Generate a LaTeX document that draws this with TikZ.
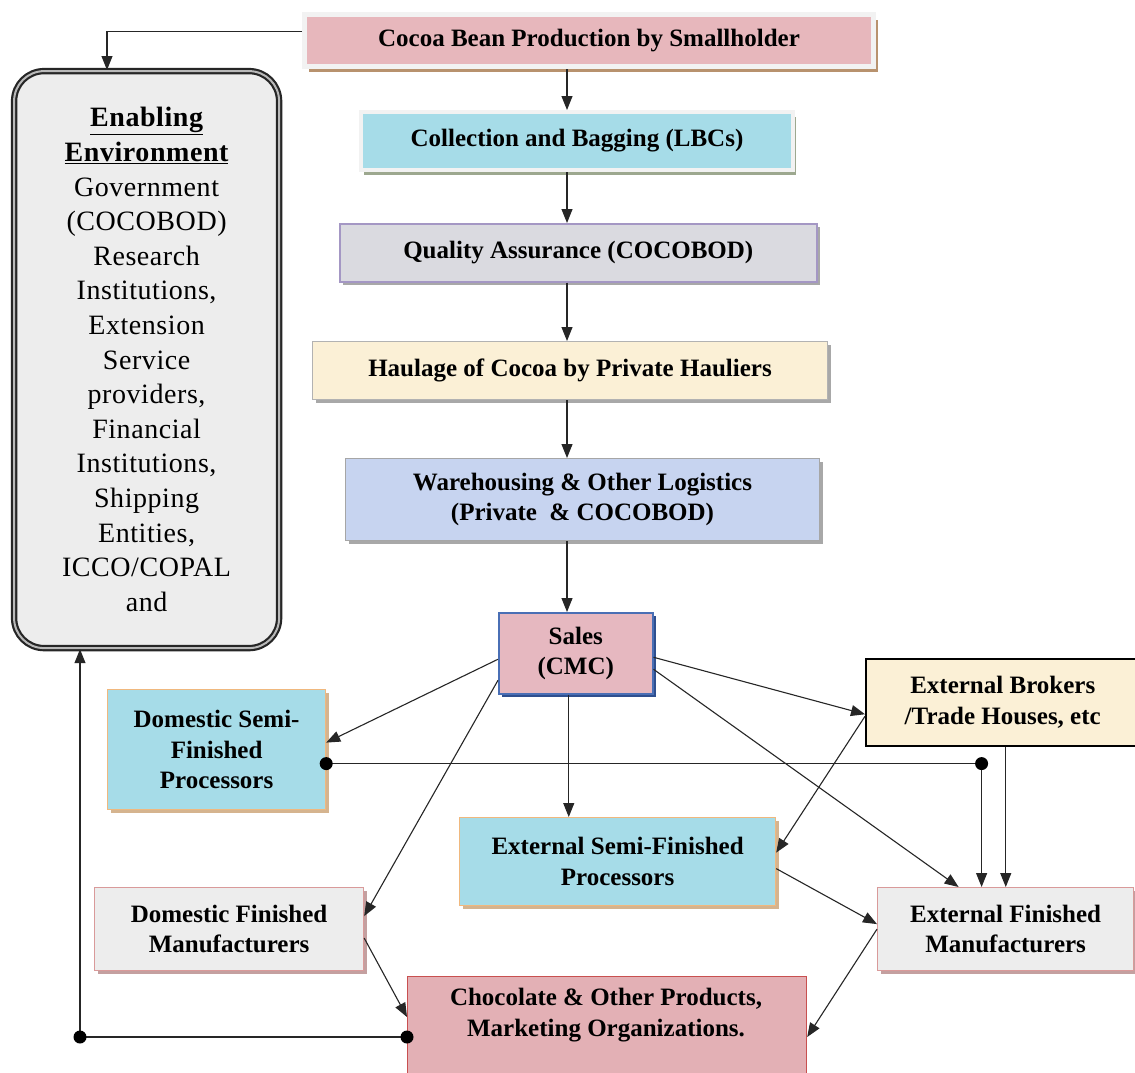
\documentclass[tikz,border=0pt]{standalone}
\usepackage{fontspec}
\setmainfont{Liberation Serif}
\usetikzlibrary{arrows.meta,shadows,calc}
\definecolor{cocoapink}{HTML}{E7B7BC}
\definecolor{salespink}{HTML}{E6B8C0}
\definecolor{chocpink}{HTML}{E3B0B5}
\definecolor{aqua}{HTML}{A6DCE8}
\definecolor{marble}{HTML}{DADAE0}
\definecolor{cream}{HTML}{FBF0D6}
\definecolor{bluelav}{HTML}{C7D4F0}
\definecolor{paper}{HTML}{EDEDED}
\definecolor{lavborder}{HTML}{A497C4}
\definecolor{orangeborder}{HTML}{F0B87E}
\definecolor{pinkborder}{HTML}{D99A9A}
\definecolor{redborder}{HTML}{C85050}
\definecolor{blueborder}{HTML}{4A6FB5}
\definecolor{brownshadow}{HTML}{B8926E}
\definecolor{greenshadow}{HTML}{9DA88F}
\definecolor{tanshadow}{HTML}{D5B48F}
\definecolor{navyshadow}{HTML}{2F4F8F}
\definecolor{greyshadow}{HTML}{A8A8A8}
\definecolor{rosyshadow}{HTML}{C4A0A0}
\begin{document}
\begin{tikzpicture}[x=1pt,y=-1pt,
  box/.style={rectangle, anchor=north west, inner sep=2pt, align=center,
    font=\fontsize{25}{30.5}\selectfont\bfseries},
  shade3/.style={drop shadow={shadow xshift=3pt, shadow yshift=-3pt, fill=#1, opacity=1}},
  conn/.style={draw=black!85, line width=1.1pt, -{Triangle[length=14pt,width=11pt]}},
  dot/.style={circle, fill=black, inner sep=0pt, minimum size=13pt}
]
\useasboundingbox (0,0) rectangle (1135,1072);
\fill[white] (0,0) rectangle (1135,1072);

% main column
\node[box, fill=cocoapink, draw=gray!10, line width=5pt,
  drop shadow={shadow xshift=4pt, shadow yshift=-5pt, fill=brownshadow, opacity=1},
  minimum width=569pt, minimum height=52pt] (cocoa) at (302,12)
  {Cocoa Bean Production by Smallholder};
\node[box, fill=aqua, draw=gray!10, line width=4pt,
  drop shadow={shadow xshift=3pt, shadow yshift=-5pt, fill=greenshadow, opacity=1},
  minimum width=432pt, minimum height=58pt] (coll) at (359,110)
  {Collection and Bagging (LBCs)};
\node[box, fill=marble, draw=lavborder, line width=1.5pt, shade3=greyshadow,
  minimum width=477pt, minimum height=58pt] (qual) at (339,223)
  {Quality Assurance (COCOBOD)};
\node[box, fill=cream, draw=gray!60, line width=1pt, shade3=greyshadow,
  minimum width=515pt, minimum height=58pt] (haul) at (312,341)
  {Haulage of Cocoa by Private Hauliers};
\node[box, fill=bluelav, draw=gray!70, line width=1pt, shade3=greyshadow,
  minimum width=474pt, minimum height=82pt] (ware) at (345,458)
  {Warehousing \& Other Logistics\\(Private~~\& COCOBOD)};
\node[box, fill=salespink, draw=blueborder, line width=1.5pt, shade3=navyshadow,
  minimum width=154pt, minimum height=81pt] (sales) at (498,612)
  {Sales\\(CMC)};

% enabling environment
\node[rectangle, anchor=north west, rounded corners=30pt, fill=paper,
  draw=black!85, double=gray!55, double distance=2pt, line width=2.2pt,
  minimum width=265pt, minimum height=577pt, align=center,
  font=\fontsize{28}{34.6}\selectfont\addfontfeature{LetterSpace=2}] (enab) at (13,70)
  {{\bfseries\underline{Enabling}}\\{\bfseries\underline{Environment}}\\Government\\(COCOBOD)\\Research\\Institutions,\\Extension\\Service\\providers,\\Financial\\Institutions,\\Shipping\\Entities,\\ICCO/COPAL\\and};

% lower boxes
\node[box, fill=aqua, draw=orangeborder, line width=1.2pt, shade3=tanshadow,
  minimum width=218pt, minimum height=120pt] (domsemi) at (107,689)
  {Domestic Semi-\\Finished\\Processors};
\node[box, fill=cream, draw=black, line width=1.5pt,
  minimum width=274pt, minimum height=87pt] (brokers) at (865,658)
  {External Brokers\\/Trade Houses, etc};
\node[box, fill=aqua, draw=orangeborder, line width=1.2pt, shade3=tanshadow,
  minimum width=316pt, minimum height=88pt] (extsemi) at (459,817)
  {External Semi-Finished\\Processors};
\node[box, fill=paper, draw=pinkborder, line width=1.2pt, shade3=rosyshadow,
  minimum width=269pt, minimum height=83pt] (domfin) at (94,887)
  {Domestic Finished\\Manufacturers};
\node[box, fill=paper, draw=pinkborder, line width=1.2pt, shade3=rosyshadow,
  minimum width=256pt, minimum height=83pt] (extfin) at (877,887)
  {External Finished\\Manufacturers};
\node[box, fill=chocpink, draw=redborder, line width=1.2pt,
  minimum width=399pt, minimum height=110pt] (choc) at (407,976) {};
\node[align=center, font=\fontsize{25}{30.5}\selectfont\bfseries] (choctext) at (606,1015)
  {Chocolate \& Other Products,\\Marketing Organizations.};

% main column connectors
\coordinate (col) at (567,0);
\draw[conn] (cocoa.south -| col) -- (coll.north -| col);
\draw[conn] (coll.south -| col) -- (qual.north -| col);
\draw[conn] (qual.south -| col) -- (haul.north -| col);
\draw[conn] (haul.south -| col) -- (ware.north -| col);
\draw[conn] (ware.south -| col) -- (sales.north -| col);

% feedback to enabling environment
\draw[conn] ([yshift=9pt]cocoa.west) -| ([xshift=94pt]enab.north west);
\draw[conn] ([yshift=-61pt]choc.north west) -| ([xshift=67pt]enab.south west);
\node[dot] (d1) at ([yshift=-61pt]choc.north west) {};
\node[dot] (d2) at (80,1037) {};

% sales fan-out
\draw[conn] ([yshift=-6pt]sales.west) -- ([yshift=7pt]domsemi.east);
\draw[conn] ([yshift=-27pt]sales.west) -- ([yshift=13pt]domfin.east);
\draw[conn] ([xshift=-7pt]sales.south) -- ([xshift=-7pt]sales.south |- extsemi.north);
\draw[conn] ([yshift=-4pt]sales.east) -- ([yshift=-12pt]brokers.west);
\draw[conn] ([yshift=-16pt]sales.east) -- ([xshift=-47pt]extfin.north);

% brokers
\draw[conn] ([yshift=-14pt]brokers.west) -- ([yshift=9pt]extsemi.east);
\draw[conn] ([xshift=3pt]brokers.south) -- ([xshift=3pt]brokers.south |- extfin.north);

% domestic semi to external finished
\draw[conn] ([yshift=-14pt]domsemi.east) -| ([xshift=-24pt]extfin.north);
\node[dot] (d3) at ([yshift=-14pt]domsemi.east) {};
\node[dot] (d4) at ([xshift=-24pt]extfin.north |- d3) {};

% to manufacturers and chocolate
\draw[conn] ([yshift=-7pt]extsemi.east) -- ([yshift=5pt]extfin.west);
\draw[conn] (extfin.west) -- ([yshift=-61pt]choc.north east);
\draw[conn] ([yshift=-9pt]domfin.east) -- ([yshift=-41pt]choc.north west);
\end{tikzpicture}
\end{document}
